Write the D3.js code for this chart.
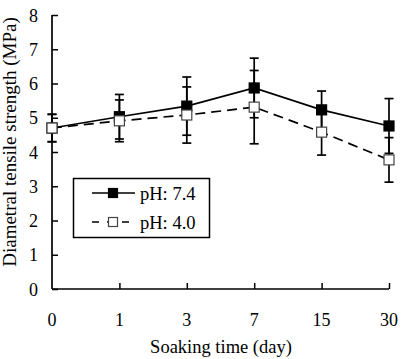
<!DOCTYPE html>
<html>
<head>
<meta charset="utf-8">
<script src="https://cdn.jsdelivr.net/npm/d3@7"></script>
<style>
  body { margin: 0; background: #fff; }
  text { font-family: "Liberation Serif", "Times New Roman", serif; fill: #000; }
</style>
</head>
<body>
<div id="chart"></div>
<script>
// soaking time categories (days)
var days = ["0", "1", "3", "7", "15", "30"];

// mean strength and error (MPa)
var ph74 = [4.70, 5.03, 5.34, 5.87, 5.23, 4.76];
var ph74Err = [0.40, 0.65, 0.85, 0.87, 0.55, 0.80];
var ph40 = [4.70, 4.91, 5.08, 5.31, 4.58, 3.77];
var ph40Err = [0.40, 0.61, 0.82, 1.07, 0.67, 0.65];

var yTicks = [0, 1, 2, 3, 4, 5, 6, 7, 8];

var width = 403, height = 359;

var svg = d3.select("#chart").append("svg")
    .attr("width", width)
    .attr("height", height);

var x = d3.scalePoint()
    .domain(days)
    .range([52, 389]);

var y = d3.scaleLinear()
    .domain([0, 8])
    .range([289, 15]);

// axes
var yAxis = d3.axisRight(y)
    .tickValues(yTicks)
    .tickSize(6)
    .tickFormat("");
svg.append("g")
    .attr("transform", "translate(52,0)")
    .call(yAxis)
    .call(function(g) {
        g.select(".domain").attr("stroke-width", 1.7).attr("d", "M0," + y(8) + "V" + y(0));
        g.selectAll("line").attr("stroke-width", 1.5);
    });

svg.selectAll(".ylab")
    .data(yTicks)
    .enter().append("text")
    .attr("class", "ylab")
    .attr("x", 38)
    .attr("y", function(d) { return y(d) + 6.5; })
    .attr("text-anchor", "end")
    .attr("font-size", 18)
    .text(function(d) { return d; });

var xAxis = d3.axisTop(x)
    .tickSize(6)
    .tickFormat("");
svg.append("g")
    .attr("transform", "translate(0," + y(0) + ")")
    .call(xAxis)
    .call(function(g) {
        g.select(".domain").attr("stroke-width", 1.7).attr("d", "M52,0H389");
        g.selectAll(".tick").filter(function(d) { return d === "0"; }).remove();
        g.selectAll("line").attr("stroke-width", 1.5);
    });

svg.selectAll(".xlab")
    .data(days)
    .enter().append("text")
    .attr("class", "xlab")
    .attr("x", function(d) { return x(d); })
    .attr("y", 326)
    .attr("text-anchor", "middle")
    .attr("font-size", 18)
    .text(function(d) { return d; });

svg.append("text")
    .attr("x", 221)
    .attr("y", 353)
    .attr("text-anchor", "middle")
    .attr("font-size", 18.5)
    .text("Soaking time (day)");

svg.append("text")
    .attr("transform", "translate(16,142) rotate(-90)")
    .attr("text-anchor", "middle")
    .attr("font-size", 19)
    .text("Diametral tensile strength (MPa)");

var series = [
    { name: "pH: 7.4", values: ph74, err: ph74Err, fill: "#000", dash: null },
    { name: "pH: 4.0", values: ph40, err: ph40Err, fill: "#fff", dash: "10,6" }
];

var line = d3.line()
    .x(function(d, i) { return x(days[i]); })
    .y(function(d) { return y(d); });

// error bars first
series.forEach(function(s) {
    var g = svg.append("g").attr("stroke", "#000").attr("stroke-width", 1.7);
    s.values.forEach(function(v, i) {
        var cx = x(days[i]);
        var top = y(v + s.err[i]), bot = y(v - s.err[i]);
        g.append("line").attr("x1", cx).attr("x2", cx).attr("y1", top).attr("y2", bot);
        g.append("line").attr("x1", cx - 4.5).attr("x2", cx + 4.5).attr("y1", top).attr("y2", top);
        g.append("line").attr("x1", cx - 4.5).attr("x2", cx + 4.5).attr("y1", bot).attr("y2", bot);
    });
});

// lines and markers
series.forEach(function(s) {
    svg.append("path")
        .datum(s.values)
        .attr("d", line)
        .attr("fill", "none")
        .attr("stroke", "#000")
        .attr("stroke-width", 1.7)
        .attr("stroke-dasharray", s.dash);
});

series.forEach(function(s) {
    svg.selectAll(null)
        .data(s.values)
        .enter().append("rect")
        .attr("x", function(d, i) { return x(days[i]) - 5; })
        .attr("y", function(d) { return y(d) - 5; })
        .attr("width", 10)
        .attr("height", 10)
        .attr("fill", s.fill)
        .attr("stroke", s.fill === "#000" ? "#000" : "#444")
        .attr("stroke-width", 1.2);
});

// legend
var lg = svg.append("g");
lg.append("rect")
    .attr("x", 73.5).attr("y", 178.5)
    .attr("width", 136).attr("height", 59)
    .attr("fill", "#fff")
    .attr("stroke", "#000")
    .attr("stroke-width", 1.5);

series.forEach(function(s, i) {
    var ly = 193 + i * 29;
    lg.append("line")
        .attr("x1", 92).attr("x2", 135)
        .attr("y1", ly).attr("y2", ly)
        .attr("stroke", "#000")
        .attr("stroke-width", 1.7)
        .attr("stroke-dasharray", s.dash ? "7,8" : null);
    lg.append("rect")
        .attr("x", 108.5).attr("y", ly - 4.5)
        .attr("width", 9).attr("height", 9)
        .attr("fill", s.fill)
        .attr("stroke", s.fill === "#000" ? "#000" : "#444")
        .attr("stroke-width", 1.2);
    lg.append("text")
        .attr("x", 140)
        .attr("y", ly + 6.5)
        .attr("font-size", 18.5)
        .text(s.name);
});
</script>
</body>
</html>
